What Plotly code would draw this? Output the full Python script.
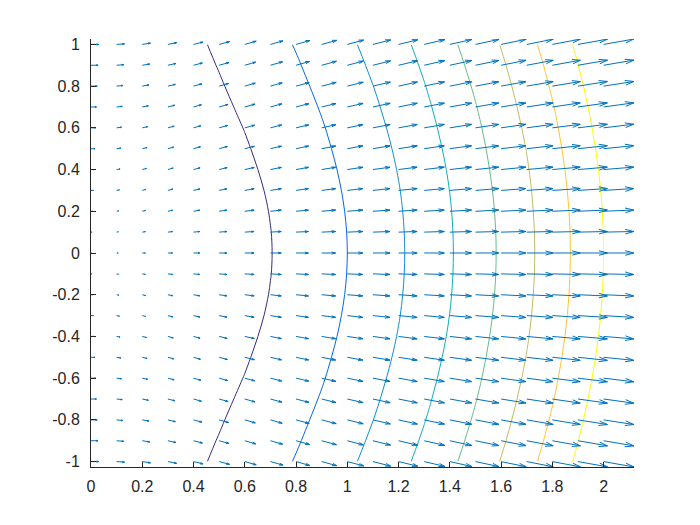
import numpy as np
import plotly.graph_objects as go
import plotly.figure_factory as ff

# grid positions (x columns, y rows)
x_vals = [0.0, 0.1, 0.2, 0.3, 0.4, 0.5, 0.6, 0.7, 0.8, 0.9, 1.0,
          1.1, 1.2, 1.3, 1.4, 1.5, 1.6, 1.7, 1.8, 1.9, 2.0]
y_vals = [-1.0, -0.9, -0.8, -0.7, -0.6, -0.5, -0.4, -0.3, -0.2, -0.1, 0.0,
          0.1, 0.2, 0.3, 0.4, 0.5, 0.6, 0.7, 0.8, 0.9, 1.0]

# surface values on the grid (one row per y value)
z_rows = [
    [0, 0.100, 0.204, 0.313, 0.431, 0.559, 0.700, 0.854, 1.025, 1.211, 1.414, 1.635, 1.874, 2.132, 2.409, 2.704, 3.019, 3.353, 3.706, 4.079, 4.472],
    [0, 0.091, 0.184, 0.285, 0.394, 0.515, 0.649, 0.798, 0.963, 1.146, 1.345, 1.563, 1.800, 2.055, 2.330, 2.624, 2.937, 3.270, 3.622, 3.995, 4.386],
    [0, 0.081, 0.165, 0.256, 0.358, 0.472, 0.600, 0.744, 0.905, 1.084, 1.281, 1.496, 1.731, 1.984, 2.257, 2.550, 2.862, 3.194, 3.546, 3.917, 4.308],
    [0, 0.071, 0.146, 0.228, 0.322, 0.430, 0.553, 0.693, 0.850, 1.026, 1.221, 1.434, 1.667, 1.919, 2.191, 2.483, 2.794, 3.125, 3.476, 3.847, 4.238],
    [0, 0.061, 0.126, 0.201, 0.288, 0.391, 0.509, 0.645, 0.800, 0.973, 1.166, 1.378, 1.610, 1.861, 2.132, 2.423, 2.734, 3.065, 3.415, 3.786, 4.176],
    [0, 0.051, 0.108, 0.175, 0.256, 0.354, 0.469, 0.602, 0.755, 0.927, 1.118, 1.329, 1.560, 1.811, 2.081, 2.372, 2.682, 3.012, 3.363, 3.733, 4.123],
    [0, 0.041, 0.089, 0.150, 0.226, 0.320, 0.433, 0.564, 0.716, 0.886, 1.077, 1.288, 1.518, 1.768, 2.038, 2.329, 2.639, 2.969, 3.319, 3.689, 4.079],
    [0, 0.032, 0.072, 0.127, 0.200, 0.292, 0.402, 0.533, 0.684, 0.854, 1.044, 1.254, 1.484, 1.734, 2.004, 2.295, 2.605, 2.935, 3.285, 3.655, 4.045],
    [0, 0.022, 0.057, 0.108, 0.179, 0.269, 0.379, 0.510, 0.660, 0.830, 1.020, 1.230, 1.460, 1.710, 1.980, 2.270, 2.580, 2.910, 3.260, 3.630, 4.020],
    [0, 0.014, 0.045, 0.095, 0.165, 0.255, 0.365, 0.495, 0.645, 0.815, 1.005, 1.215, 1.445, 1.695, 1.965, 2.255, 2.565, 2.895, 3.245, 3.615, 4.005],
    [0, 0.010, 0.040, 0.090, 0.160, 0.250, 0.360, 0.490, 0.640, 0.810, 1.000, 1.210, 1.440, 1.690, 1.960, 2.250, 2.560, 2.890, 3.240, 3.610, 4.000],
    [0, 0.014, 0.045, 0.095, 0.165, 0.255, 0.365, 0.495, 0.645, 0.815, 1.005, 1.215, 1.445, 1.695, 1.965, 2.255, 2.565, 2.895, 3.245, 3.615, 4.005],
    [0, 0.022, 0.057, 0.108, 0.179, 0.269, 0.379, 0.510, 0.660, 0.830, 1.020, 1.230, 1.460, 1.710, 1.980, 2.270, 2.580, 2.910, 3.260, 3.630, 4.020],
    [0, 0.032, 0.072, 0.127, 0.200, 0.292, 0.402, 0.533, 0.684, 0.854, 1.044, 1.254, 1.484, 1.734, 2.004, 2.295, 2.605, 2.935, 3.285, 3.655, 4.045],
    [0, 0.041, 0.089, 0.150, 0.226, 0.320, 0.433, 0.564, 0.716, 0.886, 1.077, 1.288, 1.518, 1.768, 2.038, 2.329, 2.639, 2.969, 3.319, 3.689, 4.079],
    [0, 0.051, 0.108, 0.175, 0.256, 0.354, 0.469, 0.602, 0.755, 0.927, 1.118, 1.329, 1.560, 1.811, 2.081, 2.372, 2.682, 3.012, 3.363, 3.733, 4.123],
    [0, 0.061, 0.126, 0.201, 0.288, 0.391, 0.509, 0.645, 0.800, 0.973, 1.166, 1.378, 1.610, 1.861, 2.132, 2.423, 2.734, 3.065, 3.415, 3.786, 4.176],
    [0, 0.071, 0.146, 0.228, 0.322, 0.430, 0.553, 0.693, 0.850, 1.026, 1.221, 1.434, 1.667, 1.919, 2.191, 2.483, 2.794, 3.125, 3.476, 3.847, 4.238],
    [0, 0.081, 0.165, 0.256, 0.358, 0.472, 0.600, 0.744, 0.905, 1.084, 1.281, 1.496, 1.731, 1.984, 2.257, 2.550, 2.862, 3.194, 3.546, 3.917, 4.308],
    [0, 0.091, 0.184, 0.285, 0.394, 0.515, 0.649, 0.798, 0.963, 1.146, 1.345, 1.563, 1.800, 2.055, 2.330, 2.624, 2.937, 3.270, 3.622, 3.995, 4.386],
    [0, 0.100, 0.204, 0.313, 0.431, 0.559, 0.700, 0.854, 1.025, 1.211, 1.414, 1.635, 1.874, 2.132, 2.409, 2.704, 3.019, 3.353, 3.706, 4.079, 4.472],
]

contour_levels = [0.5, 1.0, 1.5, 2.0, 2.5, 3.0, 3.5, 4.0]
contour_colors = ["#352A87", "#0268E1", "#108ED2", "#0FAEB9",
                  "#65BE86", "#C0BC60", "#FFC337", "#F9FB0E"]

x_tick_vals = [0, 0.2, 0.4, 0.6, 0.8, 1.0, 1.2, 1.4, 1.6, 1.8, 2.0]
x_tick_text = ["0", "0.2", "0.4", "0.6", "0.8", "1", "1.2", "1.4", "1.6", "1.8", "2"]
y_tick_vals = [-1, -0.8, -0.6, -0.4, -0.2, 0, 0.2, 0.4, 0.6, 0.8, 1]
y_tick_text = ["-1", "-0.8", "-0.6", "-0.4", "-0.2", "0", "0.2", "0.4", "0.6", "0.8", "1"]

# gradient of the surface (as the arrows are)
Z = np.array(z_rows, dtype=float)
dz_dy, dz_dx = np.gradient(Z, np.array(y_vals), np.array(x_vals))
X, Y = np.meshgrid(x_vals, y_vals)

# automatic arrow scaling, like a quiver plot
n_cols = len(x_vals)
n_rows = len(y_vals)
delx = (max(x_vals) - min(x_vals)) / n_cols
dely = (max(y_vals) - min(y_vals)) / n_rows
lens = np.sqrt(dz_dx ** 2 + dz_dy ** 2)
scale = 0.9 * np.sqrt(delx ** 2 + dely ** 2) / lens.max()

fig = go.Figure()

for lv, col in zip(contour_levels, contour_colors):
    fig.add_trace(go.Contour(
        x=x_vals, y=y_vals, z=z_rows,
        autocontour=False,
        contours=dict(start=lv, end=lv, size=0.5, coloring="lines", showlabels=False),
        colorscale=[[0, col], [1, col]],
        line=dict(width=1),
        showscale=False, hoverinfo="skip",
    ))

q = ff.create_quiver(X.flatten(), Y.flatten(), dz_dx.flatten(), dz_dy.flatten(),
                     scale=scale, arrow_scale=0.3, angle=0.32,
                     line=dict(color="#0072BD", width=1), hoverinfo="skip")
for tr in q.data:
    fig.add_trace(tr)

x_right = float((X + dz_dx * scale).max())
y_top = float(np.abs(Y + dz_dy * scale).max())

font = dict(family="Liberation Sans, Arial, sans-serif", size=16, color="#262626")
fig.update_layout(
    width=700, height=525,
    margin=dict(l=83, r=74, t=31, b=66, autoexpand=False),
    plot_bgcolor="white", paper_bgcolor="white",
    showlegend=False,
    xaxis=dict(range=[0, x_right], tickvals=x_tick_vals, ticktext=x_tick_text,
               ticks="inside", ticklen=5, tickwidth=1, tickcolor="#262626",
               showline=True, linecolor="#262626", linewidth=1, automargin=False,
               ticklabelstandoff=5,
               showgrid=False, zeroline=False, tickfont=font),
    yaxis=dict(range=[-y_top, y_top], tickvals=y_tick_vals, ticktext=y_tick_text,
               ticks="inside", ticklen=5, tickwidth=1, tickcolor="#262626",
               showline=True, linecolor="#262626", linewidth=1, automargin=False,
               ticklabelstandoff=7,
               showgrid=False, zeroline=False, tickfont=font),
)

fig.write_html("out.html")
